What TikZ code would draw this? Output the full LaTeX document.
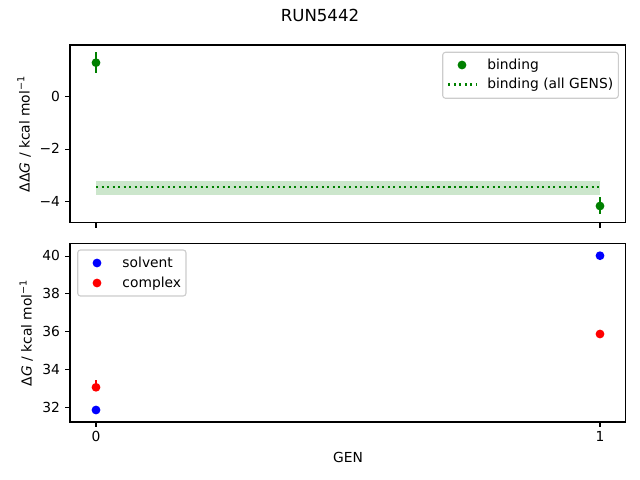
\documentclass[tikz,border=0pt]{standalone}
\usepackage{fontspec}
\setmainfont{DejaVu Sans}
\definecolor{mplgreen}{RGB}{0,128,0}
\definecolor{mplblue}{RGB}{0,0,255}
\definecolor{mplred}{RGB}{255,0,0}
\definecolor{bandfill}{RGB}{204,230,204}
\definecolor{legedge}{RGB}{204,204,204}
\begin{document}
\begin{tikzpicture}[x=0.7227pt,y=-0.7227pt,
  spine/.style={line width=0.8pt, black},
  tickmark/.style={line width=0.8pt, black},
  txt/.style={font=\fontsize{10}{12}\selectfont, inner sep=0pt, text=black},
  ticklab/.style={txt, anchor=base east},
  xticklab/.style={txt, anchor=base},
  errbar/.style={line width=1.5pt},
  legbox/.style={draw=legedge, fill=white, rounded corners=2pt, line width=0.8pt},
  legtext/.style={txt, anchor=base west}]
\useasboundingbox (0,0) rectangle (640,480);

% ---------------- title
\node[txt, font=\fontsize{12}{14}\selectfont, anchor=base] (title) at (320,21.7) {RUN5442};

% ---------------- top axes
\fill[bandfill] (96,180.7) rectangle (600,194.7);
\draw[mplgreen, line width=1.5pt, dash pattern=on 1.5pt off 2.48pt] (96,186.7) -- (600,186.7);
\draw[mplgreen, errbar] (96,52.3) -- (96,73.3);
\fill[mplgreen] (96,62.7) circle[radius=4.4];
\draw[mplgreen, errbar] (600,197.3) -- (600,214);
\fill[mplgreen] (600,206) circle[radius=4.4];

\draw[spine] (70,45) rectangle (625.5,222.7);
\foreach \yy in {96.3,149.1,201.9} \draw[tickmark] (70,\yy) -- (65.1,\yy);
\foreach \xx in {96,600} \draw[tickmark] (\xx,222.7) -- (\xx,227.6);
\node[ticklab] (tyA) at (60.2,101.0) {0};
\node[ticklab] (tyB) at (60.2,153.8) {−2};
\node[ticklab] (tyC) at (60.2,206.6) {−4};
\node[txt, rotate=90, anchor=base] (ylabtop) at (29.5,133.9) {ΔΔ\textit{G} / kcal mol\textsuperscript{−1}};

% legend top
\draw[legbox] (442.7,52.3) rectangle (618.3,98.3);
\fill[mplgreen] (462,65) circle[radius=4.4];
\draw[mplgreen, line width=1.5pt, dash pattern=on 1.5pt off 2.48pt] (448.3,84.5) -- (476,84.5);
\node[legtext] (lgA) at (487,69.4) {binding};
\node[legtext] (lgB) at (487,88.9) {binding (all GENS)};

% ---------------- bottom axes
\fill[mplblue] (96,410) circle[radius=4.4];
\draw[mplred, errbar] (96,380.1) -- (96,387.3);
\fill[mplred] (96,387.3) circle[radius=4.4];
\fill[mplblue] (600,255.7) circle[radius=4.4];
\fill[mplred] (600,334) circle[radius=4.4];

\draw[spine] (70,243.3) rectangle (625.5,422);
\foreach \yy in {407.3,369.5,331.7,293.9,256.1} \draw[tickmark] (70,\yy) -- (65.1,\yy);
\foreach \xx in {96,600} \draw[tickmark] (\xx,422) -- (\xx,426.9);
\node[ticklab] (tbA) at (60.2,412.0) {32};
\node[ticklab] (tbB) at (60.2,374.2) {34};
\node[ticklab] (tbC) at (60.2,336.4) {36};
\node[ticklab] (tbD) at (60.2,298.6) {38};
\node[ticklab] (tbE) at (60.2,260.8) {40};
\node[xticklab] (txA) at (96,441.7) {0};
\node[xticklab] (txB) at (600,441.7) {1};
\node[txt, rotate=90, anchor=base] (ylabbot) at (31.7,332.7) {Δ\textit{G} / kcal mol\textsuperscript{−1}};
\node[txt, anchor=base] (xlab) at (348,462.7) {GEN};

% legend bottom
\draw[legbox] (77.7,250) rectangle (186,296);
\fill[mplblue] (97,263) circle[radius=4.4];
\fill[mplred] (97,283) circle[radius=4.4];
\node[legtext] (lgC) at (122.2,267.4) {solvent};
\node[legtext] (lgD) at (122.2,287.4) {complex};
\end{tikzpicture}
\end{document}
